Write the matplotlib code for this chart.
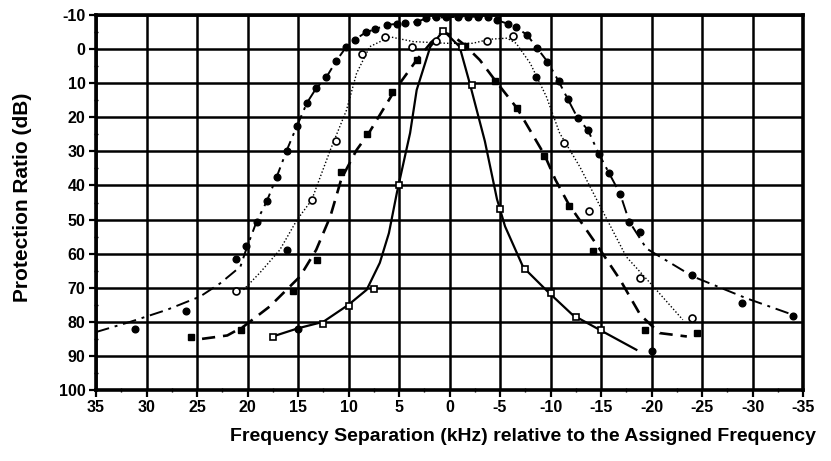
import matplotlib
matplotlib.use("Agg")
import matplotlib.pyplot as plt
from matplotlib.ticker import MultipleLocator

plt.rcParams['font.family'] = ['Liberation Sans', 'DejaVu Sans']

# ---- axis ticks ----
x_ticks = [35, 30, 25, 20, 15, 10, 5, 0, -5, -10, -15, -20, -25, -30, -35]
y_ticks = [-10, 0, 10, 20, 30, 40, 50, 60, 70, 80, 90, 100]

# ---- Series 1: solid line, open squares ----
solid_x = [17.5, 15, 12.5, 10, 8.2, 6.9, 6.0, 5.2, 3.9, 3.25, 1.9, 0.6, -1.0, -2.0, -3.5, -4.7, -5.5, -7.3, -9.75, -12.2, -14.9, -18.5]
solid_y = [84.3, 81.9, 80, 75, 70.6, 62.7, 54, 42, 24.6, 12, -0.7, -5.4, -0.7, 10, 27, 44, 52, 64, 71.2, 78, 82.4, 88.2]
sq_open_x = [17.5, 12.5, 10, 7.5, 5, 0.6, -1.2, -2.2, -5, -7.5, -10, -12.5, -15]
sq_open_y = [84.5, 80.5, 75.5, 70.5, 40, -5.4, -0.5, 10.5, 47, 64.5, 71.5, 78.5, 82.5]

# ---- Series 2: dashed line, filled squares ----
dash_x = [24.5, 22, 20.4, 17.8, 14.8, 13.2, 11.8, 10.7, 9.2, 8.0, 5.4, 3.25, 1.8, 0.7, -0.3, -1.5, -3.0, -4.5, -6.7, -9.4, -10.5, -11.8, -14.6, -16.9, -18.9, -20.8, -23.5]
dash_y = [85, 84, 81.4, 75.5, 66.7, 58.9, 49.1, 38, 29.6, 24.7, 12, 3.2, -2, -5, -4, -1.2, 3.2, 9.1, 17.4, 31, 38.4, 45.5, 57.5, 67.7, 78, 83.3, 84.3]
sq_fill_x = [25.6, 20.6, 15.5, 13.1, 10.7, 8.2, 5.7, 3.25, -1.5, -4.5, -6.7, -9.4, -11.8, -14.2, -19.4, -24.5]
sq_fill_y = [84.5, 82.4, 71.1, 61.8, 36, 25, 12.7, 3.3, -1.0, 9.4, 17.4, 31.3, 46, 59.1, 82.4, 83.2]

# ---- Series 3: dotted line, open circles ----
dot_x = [20.4, 18.8, 16.8, 15.1, 13.65, 11.8, 10.2, 9.2, 7.9, 5.9, 3.6, 0.3, -2.3, -4.0, -5.7, -6.6, -8.0, -9.6, -10.9, -12.9, -14.6, -17.5, -20.2, -23.1]
dot_y = [70.6, 65.7, 58.9, 50.1, 44.3, 29.6, 17.9, 7.1, -0.7, -3.6, -2.2, -1.7, -1.7, -2.9, -3.2, -1.7, 4.2, 14, 24.6, 34.5, 44.3, 60.9, 69.7, 79.4]
circ_open_x = [21.1, 13.65, 11.2, 8.7, 6.4, 3.75, 1.3, -3.7, -6.3, -11.3, -13.8, -18.9, -24]
circ_open_y = [71.1, 44.3, 27, 1.5, -3.6, -0.5, -2.5, -2.5, -3.8, 27.4, 47.4, 67.2, 79]

# ---- Series 4: dash-dot line, filled circles ----
dd_x = [35, 31.6, 28, 24.7, 22.7, 20.7, 20.1, 19.1, 18.1, 17.1, 16.1, 15.1, 14.1, 13.2, 12.2, 11.2, 10.2, 9.4, 8.3, 7.4, 6.2, 5.2, 4.4, 3.25, 2.3, 1.3, 0.3, -0.85, -1.85, -2.85, -3.85, -4.7, -5.8, -6.6, -7.7, -8.7, -9.7, -10.8, -11.7, -12.7, -13.7, -14.8, -15.8, -16.9, -17.8, -19.5, -24.1, -29.4, -35]
dd_y = [83, 80, 76.5, 72.6, 68.7, 63.8, 58.5, 50.6, 44.7, 37.4, 29.6, 22.5, 15.7, 11.5, 8.3, 3.4, -0.7, -2.7, -4.9, -5.8, -7.1, -7.4, -7.7, -8.0, -9.0, -9.3, -9.3, -9.5, -9.5, -9.5, -9.3, -8.5, -7.4, -6.4, -4.1, -0.2, 3.7, 9.4, 14.6, 20.3, 23.7, 30.8, 36.4, 42.5, 50.6, 58.5, 66.7, 73.1, 79]
circ_fill_x = [31.1, 26.1, 21.1, 20.1, 19.1, 18.1, 17.1, 16.1, 15.1, 14.1, 13.2, 12.2, 11.2, 10.2, 9.4, 8.3, 7.4, 6.2, 5.2, 4.4, 3.25, 2.3, 1.3, 0.3, -0.85, -1.85, -2.85, -3.85, -4.7, -5.8, -6.6, -7.7, -8.7, -9.7, -10.8, -11.7, -12.7, -13.7, -14.8, -15.8, -16.9, -17.8, -18.9, -24, -29, -34, 16.1, 15, -20, -8.6]
circ_fill_y = [82, 76.8, 61.6, 57.7, 50.6, 44.7, 37.4, 29.8, 22.5, 15.7, 11.5, 8.3, 3.4, -0.7, -2.7, -4.9, -5.8, -7.1, -7.4, -7.7, -8.0, -9.0, -9.3, -9.3, -9.5, -9.5, -9.5, -9.3, -8.5, -7.4, -6.4, -4.1, -0.2, 3.7, 9.4, 14.6, 20.3, 23.7, 30.8, 36.4, 42.5, 50.6, 53.7, 66.2, 74.4, 78.3, 59, 82, 88.5, 8.3]

fig = plt.figure(figsize=(8.31, 4.61), dpi=100)
ax = fig.add_axes([96/831, 1 - 390/461, (803 - 96)/831, (390 - 15)/461])

ax.set_xlim(35, -35)
ax.set_ylim(100, -10)
ax.set_xticks(x_ticks)
ax.set_yticks(y_ticks)
ax.set_xticklabels([str(v) for v in x_ticks])
ax.set_yticklabels([str(v) for v in y_ticks])
ax.xaxis.set_minor_locator(MultipleLocator(2.5))
ax.yaxis.set_minor_locator(MultipleLocator(5))
ax.grid(True, which='major', color='black', linewidth=1.8)
ax.set_axisbelow(True)
for s in ax.spines.values():
    s.set_linewidth(2.6)
ax.tick_params(which='major', direction='out', length=5, width=1.6, labelsize=11.5, pad=2.5)
ax.tick_params(which='minor', direction='inout', length=3, width=1.0)
for lab in ax.get_xticklabels() + ax.get_yticklabels():
    lab.set_fontweight('bold')

k = 'black'
ax.plot(dd_x, dd_y, color=k, linewidth=1.4, linestyle=(0, (7, 3, 1.5, 3)))
ax.plot(dot_x, dot_y, color=k, linewidth=1.0, linestyle=(0, (1, 1.5)))
ax.plot(dash_x, dash_y, color=k, linewidth=1.9, linestyle=(0, (5, 3)))
ax.plot(solid_x, solid_y, color=k, linewidth=1.6)

ax.plot(circ_fill_x, circ_fill_y, 'o', color=k, markersize=4.8, linestyle='none')
ax.plot(sq_fill_x, sq_fill_y, 's', color=k, markersize=4.5, linestyle='none')
ax.plot(circ_open_x, circ_open_y, 'o', markerfacecolor='white', markeredgecolor=k,
        markeredgewidth=1.2, markersize=5, linestyle='none')
ax.plot(sq_open_x, sq_open_y, 's', markerfacecolor='white', markeredgecolor=k,
        markeredgewidth=1.2, markersize=4.5, linestyle='none')

fig.text(23/831, 1 - 197/461, 'Protection Ratio (dB)', rotation=90, ha='center', va='center',
         fontsize=15, fontweight='bold')
fig.text(523/831, 1 - 436/461, 'Frequency Separation (kHz) relative to the Assigned Frequency',
         ha='center', va='center', fontsize=14, fontweight='bold')

fig.savefig('out.png', dpi=100)
